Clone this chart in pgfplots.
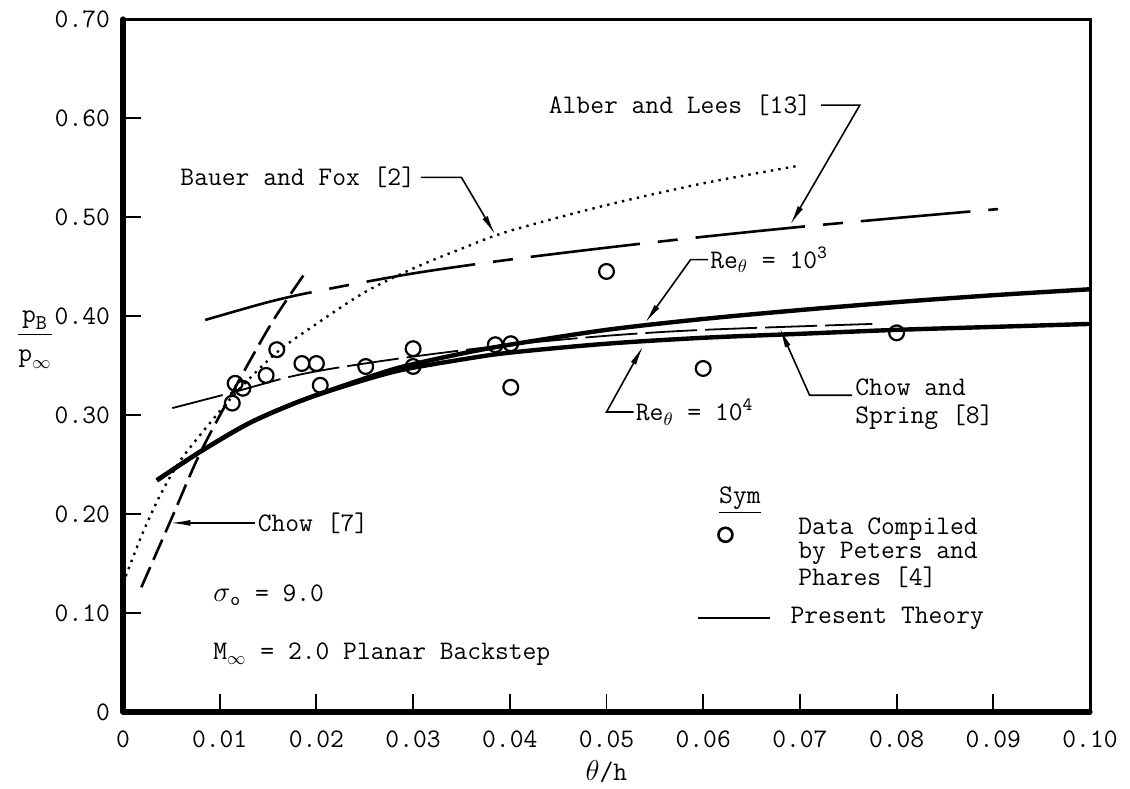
\documentclass[border=0pt]{standalone}
\usepackage{fontspec}
\usepackage{pgfplots}
\pgfplotsset{compat=1.18}
\usetikzlibrary{arrows.meta}
\begin{document}
\begin{tikzpicture}[font=\ttfamily\fontsize{13.4}{14}\selectfont,
  lead/.style={line width=0.8pt,-{Latex[length=10pt,width=3pt]}}]
\useasboundingbox (-61.5pt,-38pt) rectangle (503.5pt,356pt);
\begin{axis}[
  scale only axis, width=483.5pt, height=346.5pt,
  xmin=0, xmax=0.1, ymin=0, ymax=0.7,
  axis line style={line width=1.5pt},
  xtick={0,0.01,0.02,0.03,0.04,0.05,0.06,0.07,0.08,0.09,0.1},
  xticklabels={0,0.01,0.02,0.03,0.04,0.05,0.06,0.07,0.08,0.09,0.10},
  ytick={0,0.1,0.2,0.3,0.4,0.5,0.6,0.7},
  yticklabels={0,0.10,0.20,0.30,0.40,0.50,0.60,0.70},
  tick align=inside, xtick pos=bottom, ytick pos=left,
  major tick length=9pt, tick style={line width=0.9pt, black},
  xticklabel style={yshift=-6pt},
  yticklabel style={xshift=-3pt},
  /pgf/number format/assume math mode=true,
  clip=false,
]
% Present theory Re=10^3 (upper)
\addplot[line width=2.2pt, smooth] coordinates {(0.0035,0.234)(0.008,0.263)(0.0131,0.292)(0.0183,0.314)(0.0235,0.332)(0.0286,0.348)(0.035,0.362)(0.04,0.371)(0.05,0.386)(0.06,0.397)(0.07,0.406)(0.08,0.414)(0.09,0.421)(0.10,0.427)};
% Present theory Re=10^4 (lower)
\addplot[line width=2.2pt, smooth] coordinates {(0.0035,0.234)(0.008,0.263)(0.0131,0.292)(0.0183,0.314)(0.0235,0.331)(0.0286,0.345)(0.035,0.356)(0.04,0.363)(0.05,0.372)(0.06,0.378)(0.07,0.382)(0.08,0.386)(0.09,0.389)(0.10,0.392)};
% Bauer and Fox (dotted)
\addplot[line width=1.2pt, dash pattern=on 1.2pt off 2.6pt, smooth] coordinates {(0,0.13)(0.002,0.18)(0.004,0.222)(0.006,0.255)(0.009,0.292)(0.012,0.326)(0.016,0.364)(0.02,0.392)(0.025,0.424)(0.03,0.448)(0.035,0.468)(0.04,0.486)(0.05,0.512)(0.06,0.534)(0.07,0.552)};
% Alber and Lees (long dash)
\addplot[line width=1.3pt, dash pattern=on 55pt off 9pt on 10pt off 9pt, smooth] coordinates {(0.0085,0.396)(0.015,0.414)(0.02,0.425)(0.03,0.443)(0.04,0.457)(0.05,0.469)(0.06,0.480)(0.07,0.490)(0.08,0.499)(0.0905,0.508)};
% Chow [7]
\addplot[line width=1.3pt, dash pattern=on 11pt off 4pt, smooth] coordinates {(0.0019,0.126)(0.005,0.195)(0.008,0.262)(0.012,0.335)(0.0155,0.395)(0.0188,0.443)};
% Chow and Spring [8]
\addplot[line width=0.9pt, dash pattern=on 26pt off 4pt, smooth] coordinates {(0.0051,0.307)(0.0114,0.323)(0.017,0.338)(0.0217,0.347)(0.030,0.359)(0.040,0.371)(0.050,0.380)(0.060,0.386)(0.0775,0.392)};
% Data (Peters and Phares)
\addplot[only marks, mark=o, mark size=3.7pt, mark options={line width=1.1pt, fill=white}] coordinates {(0.0113,0.312)(0.0116,0.332)(0.0124,0.327)(0.0148,0.340)(0.0159,0.366)(0.0185,0.352)(0.020,0.352)(0.0204,0.330)(0.0251,0.349)(0.030,0.367)(0.030,0.349)(0.0385,0.371)(0.0401,0.372)(0.0401,0.328)(0.05,0.445)(0.06,0.347)(0.08,0.383)};
% legend symbol
\addplot[only marks, mark=o, mark size=3.5pt, mark options={line width=1.3pt}] coordinates {(0.0623,0.179)};
\draw[line width=1.3pt] (axis cs:0.0595,0.095) -- (axis cs:0.0669,0.095);
% heavier left and bottom frame
\draw[line width=2.6pt, line cap=round, line join=round] (rel axis cs:0,1) -- (rel axis cs:0,0) -- (rel axis cs:1,0);
% annotations
\node[anchor=west, inner sep=0pt] at (axis cs:0.0059,0.540) {Bauer and Fox [2]};
\draw[lead] (axis cs:0.0308,0.540) -- (axis cs:0.035,0.540) -- (axis cs:0.0385,0.482);
\node[anchor=west, inner sep=0pt] at (axis cs:0.044,0.613) {Alber and Lees [13]};
\draw[lead] (axis cs:0.0722,0.613) -- (axis cs:0.0762,0.613) -- (axis cs:0.069,0.492);
\node[anchor=west, inner sep=0pt] at (axis cs:0.0607,0.457) {Re\textsubscript{$\theta$} = 10\textsuperscript{3}};
\draw[lead] (axis cs:0.0605,0.457) -- (axis cs:0.0587,0.457) -- (axis cs:0.054,0.393);
\node[anchor=west, inner sep=0pt] at (axis cs:0.053,0.303) {Re\textsubscript{$\theta$} = 10\textsuperscript{4}};
\draw[lead] (axis cs:0.0528,0.303) -- (axis cs:0.050,0.303) -- (axis cs:0.0538,0.370);
\node[anchor=west, inner sep=0pt, align=left, font=\ttfamily\fontsize{13.4}{14}\selectfont] at (axis cs:0.0757,0.311) {Chow and\\Spring [8]};
\draw[lead] (axis cs:0.0754,0.320) -- (axis cs:0.071,0.320) -- (axis cs:0.0679,0.388);
\node[anchor=west, inner sep=0pt] at (axis cs:0.0139,0.191) {Chow [7]};
\draw[lead] (axis cs:0.0137,0.191) -- (axis cs:0.0049,0.191);
\node[anchor=west, inner sep=0pt] at (axis cs:0.0093,0.118) {$\sigma$\textsubscript{o} = 9.0};
\node[anchor=west, inner sep=0pt] at (axis cs:0.0093,0.058) {M\textsubscript{$\infty$} = 2.0 Planar Backstep};
\node[inner sep=0pt] at (axis cs:0.0638,0.214) {\underline{Sym}};
\node[anchor=west, inner sep=0pt, align=left, font=\ttfamily\fontsize{13.4}{9.2}\selectfont] at (axis cs:0.0698,0.161) {Data Compiled\\by Peters and\\Phares [4]};
\node[anchor=west, inner sep=0pt] at (axis cs:0.069,0.095) {Present Theory};
\node at (axis cs:0.05,0) [yshift=-30pt] {$\theta$/h};
\node at (axis cs:0,0.376) [xshift=-44pt] {$\displaystyle\frac{\mbox{\ttfamily p}_{\mbox{\ttfamily\fontsize{10.5}{11}\selectfont B}}}{\mbox{\ttfamily p}_{\infty}}$};
\end{axis}
\end{tikzpicture}
\end{document}
